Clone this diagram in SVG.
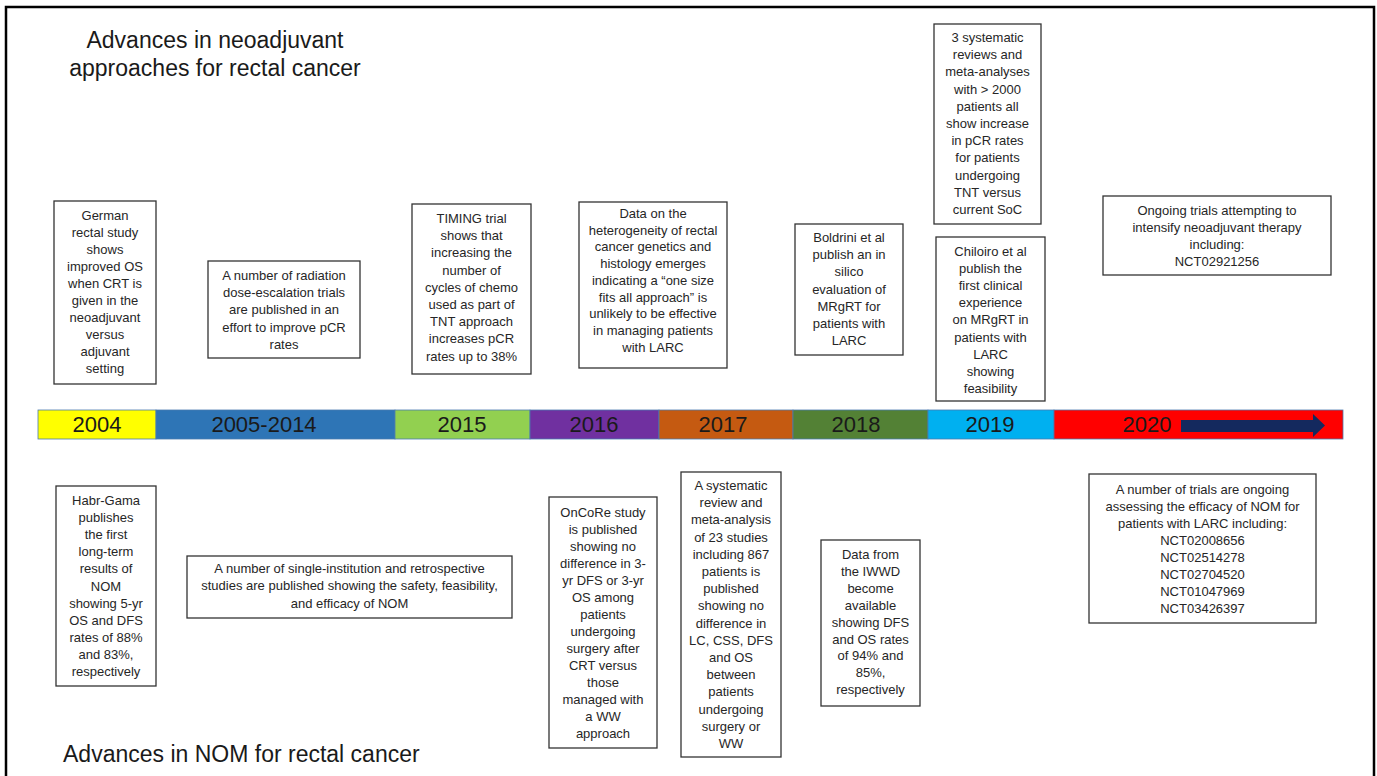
<svg xmlns="http://www.w3.org/2000/svg" width="1377" height="776" viewBox="0 0 1377 776">
<style>
.bg{fill:#ffffff}
.frame{fill:none;stroke:#000;stroke-width:2.5}
.box{fill:#ffffff;stroke:#333333;stroke-width:1.3}
.t{font-family:"Liberation Sans",Arial,sans-serif;font-size:13px;fill:#262626;text-anchor:middle}
.title{font-family:"Liberation Sans",Arial,sans-serif;font-size:23px;fill:#1a1a1a}
.yr{font-family:"Liberation Sans",Arial,sans-serif;font-size:22px;fill:#1a1a1a;text-anchor:middle}
.seg{stroke:#4a7ab0;stroke-width:0.8}
</style>
<rect class="bg" x="0" y="0" width="1377" height="776"/>
<path class="frame" d="M6,776 V7 H1374 V776"/>

<g id="title-top">
<text class="title" text-anchor="middle" x="215" y="48">Advances in neoadjuvant</text>
<text class="title" text-anchor="middle" x="215" y="76">approaches for rectal cancer</text>
</g>
<g id="title-bottom">
<text class="title" x="63" y="762">Advances in NOM for rectal cancer</text>
</g>

<g id="timeline">
<rect class="seg" x="38" y="410" width="118" height="29" fill="#FFFF00"/>
<rect class="seg" x="156" y="410" width="239" height="29" fill="#2E75B6"/>
<rect class="seg" x="395" y="410" width="135" height="29" fill="#92D050"/>
<rect class="seg" x="530" y="410" width="129" height="29" fill="#7030A0"/>
<rect class="seg" x="659" y="410" width="134" height="29" fill="#C55A11"/>
<rect class="seg" x="793" y="410" width="135" height="29" fill="#538135"/>
<rect class="seg" x="928" y="410" width="126" height="29" fill="#00B0F0"/>
<rect class="seg" x="1054" y="410" width="289" height="29" fill="#FF0000"/>
<text class="yr" x="97" y="432">2004</text>
<text class="yr" x="264" y="432">2005-2014</text>
<text class="yr" x="462" y="432">2015</text>
<text class="yr" x="594" y="432">2016</text>
<text class="yr" x="723" y="432">2017</text>
<text class="yr" x="856" y="432">2018</text>
<text class="yr" x="990" y="432">2019</text>
<text class="yr" x="1147" y="432">2020</text>
</g>

<g id="connectors">
<polygon points="1181,420 1313,420 1313,414 1325,425.5 1313,437 1313,432 1181,432" fill="#14295e"/>
</g>

<g id="n-german">
<rect class="box" x="54" y="201" width="102" height="183"/>
<text class="t" y="220"><tspan x="105">German</tspan><tspan x="105" dy="17">rectal study</tspan><tspan x="105" dy="17">shows</tspan><tspan x="105" dy="17">improved OS</tspan><tspan x="105" dy="17">when CRT is</tspan><tspan x="105" dy="17">given in the</tspan><tspan x="105" dy="17">neoadjuvant</tspan><tspan x="105" dy="17">versus</tspan><tspan x="105" dy="17">adjuvant</tspan><tspan x="105" dy="17">setting</tspan></text>
</g>

<g id="n-radiation">
<rect class="box" x="208" y="261" width="152" height="97"/>
<text class="t" y="280"><tspan x="284">A number of radiation</tspan><tspan x="284" dy="17.2">dose-escalation trials</tspan><tspan x="284" dy="17.2">are published in an</tspan><tspan x="284" dy="17.2">effort to improve pCR</tspan><tspan x="284" dy="17.2">rates</tspan></text>
</g>

<g id="n-timing">
<rect class="box" x="412" y="204" width="119" height="170"/>
<text class="t" y="223"><tspan x="471.5">TIMING trial</tspan><tspan x="471.5" dy="17.2">shows that</tspan><tspan x="471.5" dy="17.2">increasing the</tspan><tspan x="471.5" dy="17.2">number of</tspan><tspan x="471.5" dy="17.2">cycles of chemo</tspan><tspan x="471.5" dy="17.2">used as part of</tspan><tspan x="471.5" dy="17.2">TNT approach</tspan><tspan x="471.5" dy="17.2">increases pCR</tspan><tspan x="471.5" dy="17.2">rates up to 38%</tspan></text>
</g>

<g id="n-heterogeneity">
<rect class="box" x="579" y="202" width="148" height="166"/>
<text class="t" y="218"><tspan x="653">Data on the</tspan><tspan x="653" dy="16.7">heterogeneity of rectal</tspan><tspan x="653" dy="16.7">cancer genetics and</tspan><tspan x="653" dy="16.7">histology emerges</tspan><tspan x="653" dy="16.7">indicating a “one size</tspan><tspan x="653" dy="16.7">fits all approach” is</tspan><tspan x="653" dy="16.7">unlikely to be effective</tspan><tspan x="653" dy="16.7">in managing patients</tspan><tspan x="653" dy="16.7">with LARC</tspan></text>
</g>

<g id="n-boldrini">
<rect class="box" x="795" y="224" width="108" height="131"/>
<text class="t" y="242"><tspan x="849">Boldrini et al</tspan><tspan x="849" dy="17.2">publish an in</tspan><tspan x="849" dy="17.2">silico</tspan><tspan x="849" dy="17.2">evaluation of</tspan><tspan x="849" dy="17.2">MRgRT for</tspan><tspan x="849" dy="17.2">patients with</tspan><tspan x="849" dy="17.2">LARC</tspan></text>
</g>

<g id="n-meta3">
<rect class="box" x="934" y="24" width="107" height="200"/>
<text class="t" y="42"><tspan x="987.5">3 systematic</tspan><tspan x="987.5" dy="17.2">reviews and</tspan><tspan x="987.5" dy="17.2">meta-analyses</tspan><tspan x="987.5" dy="17.2">with &gt; 2000</tspan><tspan x="987.5" dy="17.2">patients all</tspan><tspan x="987.5" dy="17.2">show increase</tspan><tspan x="987.5" dy="17.2">in pCR rates</tspan><tspan x="987.5" dy="17.2">for patients</tspan><tspan x="987.5" dy="17.2">undergoing</tspan><tspan x="987.5" dy="17.2">TNT versus</tspan><tspan x="987.5" dy="17.2">current SoC</tspan></text>
</g>

<g id="n-chiloiro">
<rect class="box" x="936" y="237" width="109" height="164"/>
<text class="t" y="256"><tspan x="990.5">Chiloiro et al</tspan><tspan x="990.5" dy="17.1">publish the</tspan><tspan x="990.5" dy="17.1">first clinical</tspan><tspan x="990.5" dy="17.1">experience</tspan><tspan x="990.5" dy="17.1">on MRgRT in</tspan><tspan x="990.5" dy="17.1">patients with</tspan><tspan x="990.5" dy="17.1">LARC</tspan><tspan x="990.5" dy="17.1">showing</tspan><tspan x="990.5" dy="17.1">feasibility</tspan></text>
</g>

<g id="n-ongoing">
<rect class="box" x="1103" y="196" width="228" height="79"/>
<text class="t" y="215"><tspan x="1217">Ongoing trials attempting to</tspan><tspan x="1217" dy="17">intensify neoadjuvant therapy</tspan><tspan x="1217" dy="17">including:</tspan><tspan x="1217" dy="17">NCT02921256</tspan></text>
</g>

<g id="n-habrgama">
<rect class="box" x="56" y="486" width="100" height="200"/>
<text class="t" y="505"><tspan x="106">Habr-Gama</tspan><tspan x="106" dy="17.1">publishes</tspan><tspan x="106" dy="17.1">the first</tspan><tspan x="106" dy="17.1">long-term</tspan><tspan x="106" dy="17.1">results of</tspan><tspan x="106" dy="17.1">NOM</tspan><tspan x="106" dy="17.1">showing 5-yr</tspan><tspan x="106" dy="17.1">OS and DFS</tspan><tspan x="106" dy="17.1">rates of 88%</tspan><tspan x="106" dy="17.1">and 83%,</tspan><tspan x="106" dy="17.1">respectively</tspan></text>
</g>

<g id="n-single">
<rect class="box" x="187" y="556" width="325" height="62"/>
<text class="t" y="573"><tspan x="349.5">A number of single-institution and retrospective</tspan><tspan x="349.5" dy="17.3">studies are published showing the safety, feasibility,</tspan><tspan x="349.5" dy="17.3">and efficacy of NOM</tspan></text>
</g>

<g id="n-oncore">
<rect class="box" x="549" y="497" width="108" height="251"/>
<text class="t" y="517"><tspan x="603">OnCoRe study</tspan><tspan x="603" dy="17">is published</tspan><tspan x="603" dy="17">showing no</tspan><tspan x="603" dy="17">difference in 3-</tspan><tspan x="603" dy="17">yr DFS or 3-yr</tspan><tspan x="603" dy="17">OS among</tspan><tspan x="603" dy="17">patients</tspan><tspan x="603" dy="17">undergoing</tspan><tspan x="603" dy="17">surgery after</tspan><tspan x="603" dy="17">CRT versus</tspan><tspan x="603" dy="17">those</tspan><tspan x="603" dy="17">managed with</tspan><tspan x="603" dy="17">a WW</tspan><tspan x="603" dy="17">approach</tspan></text>
</g>

<g id="n-sysreview">
<rect class="box" x="681" y="472" width="100" height="285"/>
<text class="t" y="490"><tspan x="731">A systematic</tspan><tspan x="731" dy="17.2">review and</tspan><tspan x="731" dy="17.2">meta-analysis</tspan><tspan x="731" dy="17.2">of 23 studies</tspan><tspan x="731" dy="17.2">including 867</tspan><tspan x="731" dy="17.2">patients is</tspan><tspan x="731" dy="17.2">published</tspan><tspan x="731" dy="17.2">showing no</tspan><tspan x="731" dy="17.2">difference in</tspan><tspan x="731" dy="17.2">LC, CSS, DFS</tspan><tspan x="731" dy="17.2">and OS</tspan><tspan x="731" dy="17.2">between</tspan><tspan x="731" dy="17.2">patients</tspan><tspan x="731" dy="17.2">undergoing</tspan><tspan x="731" dy="17.2">surgery or</tspan><tspan x="731" dy="17.2">WW</tspan></text>
</g>

<g id="n-iwwd">
<rect class="box" x="821" y="540" width="99" height="166"/>
<text class="t" y="559"><tspan x="870.5">Data from</tspan><tspan x="870.5" dy="16.9">the IWWD</tspan><tspan x="870.5" dy="16.9">become</tspan><tspan x="870.5" dy="16.9">available</tspan><tspan x="870.5" dy="16.9">showing DFS</tspan><tspan x="870.5" dy="16.9">and OS rates</tspan><tspan x="870.5" dy="16.9">of 94% and</tspan><tspan x="870.5" dy="16.9">85%,</tspan><tspan x="870.5" dy="16.9">respectively</tspan></text>
</g>

<g id="n-nct">
<rect class="box" x="1089" y="474" width="227" height="149"/>
<text class="t" y="494"><tspan x="1202.5">A number of trials are ongoing</tspan><tspan x="1202.5" dy="17">assessing the efficacy of NOM for</tspan><tspan x="1202.5" dy="17">patients with LARC including:</tspan><tspan x="1202.5" dy="17">NCT02008656</tspan><tspan x="1202.5" dy="17">NCT02514278</tspan><tspan x="1202.5" dy="17">NCT02704520</tspan><tspan x="1202.5" dy="17">NCT01047969</tspan><tspan x="1202.5" dy="17">NCT03426397</tspan></text>
</g>
</svg>
